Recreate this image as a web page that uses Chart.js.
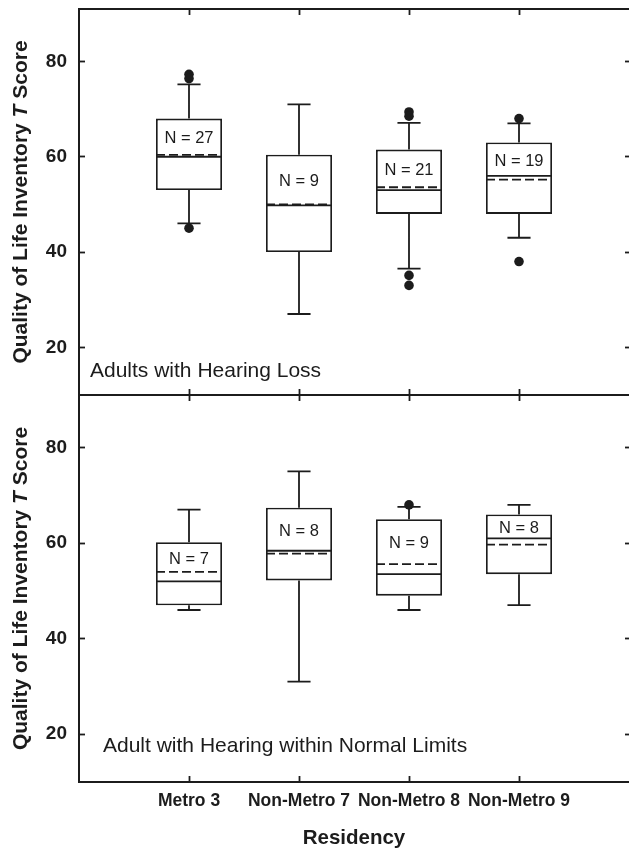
<!DOCTYPE html>
<html>
<head>
<meta charset="utf-8">
<title>Quality of Life Inventory T score by residency</title>
<script src="https://cdn.jsdelivr.net/npm/chart.js@4.4.1/dist/chart.umd.min.js"></script>
<style>
    body { margin: 0; background: #fff; }
    #wrap { position: relative; width: 629px; height: 851px; overflow: hidden; background: #fff; }
    #wrap canvas { position: absolute; left: 0; }
    #topChart { top: 0; }
    #bottomChart { top: 390px; }
</style>
</head>
<body>
<div id="wrap">
    <canvas id="topChart" width="629" height="400"></canvas>
    <canvas id="bottomChart" width="629" height="461"></canvas>
</div>
<script>
const categories = ['Metro 3', 'Non-Metro 7', 'Non-Metro 8', 'Non-Metro 9'];
const yTicks = [20, 40, 60, 80];

// top panel: adults with hearing loss
const lossLow = [46, 27, 36.5, 43];
const lossQ1 = [53, 40, 48, 48];
const lossMedian = [60, 49.8, 53, 56];
const lossMean = [60.4, 50, 53.6, 55.2];
const lossQ3 = [68, 60.4, 61.5, 63];
const lossHigh = [75.2, 71, 67.1, 67];
const lossOutliers = [[77.3, 76.4, 45], [], [69.4, 68.5, 35.1, 33], [68, 38]];
const lossN = [27, 9, 21, 19];

// bottom panel: hearing within normal limits
const normalLow = [46, 31, 46, 47];
const normalQ1 = [47, 52.2, 49, 53.5];
const normalMedian = [52, 58.4, 53.5, 61];
const normalMean = [54, 57.8, 55.6, 59.7];
const normalQ3 = [60.2, 67.4, 65, 66];
const normalHigh = [67, 75, 67.6, 68];
const normalOutliers = [[], [], [68], []];
const normalN = [7, 8, 9, 8];

const INK = '#1c1c1c';
const FONT = "'Liberation Sans', Arial, Helvetica, sans-serif";
const BOX_HALF = 0.3;   // box is 0.6 of a category step
const CAP_HALF = 0.105;

Chart.defaults.font.family = FONT;
Chart.defaults.color = INK;

// horizontal pieces centred on each category, broken by null points
function hLines(values, half) {
    let pts = [];
    values.forEach(function (v, i) {
        pts.push({x: i + 1 - half, y: v}, {x: i + 1 + half, y: v}, {x: i + 1, y: null});
    });
    return pts;
}

function vLines(from, to) {
    let pts = [];
    from.forEach(function (v, i) {
        pts.push({x: i + 1, y: v}, {x: i + 1, y: to[i]}, {x: i + 1, y: null});
    });
    return pts;
}

function lineSet(data, order, dash) {
    return {
        type: 'line',
        data: data,
        order: order,
        borderColor: INK,
        borderWidth: 1.8,
        borderDash: dash || [],
        pointRadius: 0,
        spanGaps: false,
        tension: 0,
        fill: false,
        xAxisID: 'x',
        yAxisID: 'y'
    };
}

function tickGrid(len) {
    return {
        display: true,
        offset: false,
        drawOnChartArea: false,
        drawTicks: true,
        tickLength: len,
        tickWidth: 1.8,
        tickColor: INK
    };
}

// fixed axis size, and no extra room for the end labels
function fixSize(prop, size) {
    return function (s) {
        s[prop] = size;
        s.paddingTop = 0;
        s.paddingBottom = 0;
        s.paddingLeft = 0;
        s.paddingRight = 0;
    };
}

function makePanel(id, p) {
    let outlierPts = [];
    p.outliers.forEach(function (list, i) {
        list.forEach(function (v) { outlierPts.push({x: i + 1, y: v}); });
    });

    // N labels, caption and the y title (it has an italic T in it)
    const textPlugin = {
        id: 'panelText',
        afterDraw(chart) {
            const ctx = chart.ctx;
            const area = chart.chartArea;
            const xs = chart.scales.x;
            const ys = chart.scales.y;
            ctx.save();
            ctx.fillStyle = INK;
            ctx.textAlign = 'center';
            ctx.textBaseline = 'middle';
            ctx.font = '16.5px ' + FONT;
            p.n.forEach(function (n, i) {
                const mid = (p.q3[i] + Math.max(p.median[i], p.mean[i])) / 2;
                ctx.fillText('N = ' + n, xs.getPixelForValue(i + 1), ys.getPixelForValue(mid) + 2);
            });

            ctx.textAlign = 'left';
            ctx.font = '21px ' + FONT;
            ctx.fillText(p.caption, area.left + p.captionDx, area.bottom - p.captionDy);

            // rotated y title
            const parts = [
                ['Quality of Life Inventory ', 'bold 21px ' + FONT],
                ['T', 'italic bold 21px ' + FONT],
                [' Score', 'bold 21px ' + FONT]
            ];
            let total = 0;
            parts.forEach(function (part) {
                ctx.font = part[1];
                total += ctx.measureText(part[0]).width;
            });
            ctx.translate(21, (area.top + area.bottom) / 2);
            ctx.rotate(-Math.PI / 2);
            let cx = -total / 2;
            parts.forEach(function (part) {
                ctx.font = part[1];
                ctx.fillText(part[0], cx, 0);
                cx += ctx.measureText(part[0]).width;
            });
            ctx.restore();
        }
    };

    const catTicks = function (s) {
        s.ticks = categories.map(function (c, i) { return {value: i + 1}; });
    };
    const valTicks = function (s) {
        s.ticks = yTicks.map(function (v) { return {value: v}; });
    };

    return new Chart(document.getElementById(id), {
        type: 'bar',
        data: {
            datasets: [
                {
                    type: 'scatter',
                    data: outlierPts,
                    order: 0,
                    pointRadius: 4.8,
                    pointBackgroundColor: INK,
                    pointBorderWidth: 0,
                    showLine: false,
                    xAxisID: 'x',
                    yAxisID: 'y'
                },
                lineSet(hLines(p.mean, BOX_HALF), 1, [9, 4]),
                lineSet(hLines(p.median, BOX_HALF), 2),
                lineSet(hLines(p.low, CAP_HALF).concat(hLines(p.high, CAP_HALF)), 3),
                lineSet(vLines(p.low, p.q1).concat(vLines(p.q3, p.high)), 4),
                {
                    type: 'bar',
                    data: p.q1.map(function (v, i) { return {x: i + 1, y: [v, p.q3[i]]}; }),
                    order: 5,
                    backgroundColor: '#fff',
                    borderColor: INK,
                    borderWidth: 1.8,
                    borderSkipped: false,
                    barPercentage: BOX_HALF * 2,
                    categoryPercentage: 1,
                    xAxisID: 'x',
                    yAxisID: 'y'
                }
            ]
        },
        options: {
            responsive: false,
            animation: false,
            events: [],
            layout: {autoPadding: false, padding: {top: p.padTop, left: 0, right: 0, bottom: 0}},
            plugins: {legend: {display: false}, tooltip: {enabled: false}},
            scales: {
                x: {
                    type: 'linear',
                    position: 'bottom',
                    min: 0,
                    max: 5,
                    offset: false,
                    afterBuildTicks: catTicks,
                    afterFit: fixSize('height', p.bottomHeight),
                    ticks: {
                        display: p.showX,
                        autoSkip: false,
                        maxRotation: 0,
                        minRotation: 0,
                        padding: 15,
                        color: INK,
                        font: {size: 17.5, weight: 'bold'},
                        callback: function (v) { return categories[v - 1]; }
                    },
                    grid: tickGrid(-6),
                    border: {display: true, color: INK, width: 2},
                    title: {
                        display: p.showX,
                        text: 'Residency',
                        color: INK,
                        font: {size: 20.5, weight: 'bold'},
                        padding: {top: 0, bottom: 0}
                    }
                },
                x2: {
                    type: 'linear',
                    position: 'top',
                    min: 0,
                    max: 5,
                    offset: false,
                    afterBuildTicks: catTicks,
                    afterFit: fixSize('height', 0),
                    ticks: {display: false},
                    grid: tickGrid(-6),
                    border: {display: true, color: INK, width: 2}
                },
                y: {
                    type: 'linear',
                    position: 'left',
                    min: 10,
                    max: 91,
                    afterBuildTicks: valTicks,
                    afterFit: fixSize('width', 79),
                    ticks: {padding: 18, color: INK, font: {size: 19, weight: 'bold'}},
                    grid: tickGrid(-6),
                    border: {display: true, color: INK, width: 2}
                },
                y2: {
                    type: 'linear',
                    position: 'right',
                    min: 10,
                    max: 91,
                    afterBuildTicks: valTicks,
                    afterFit: fixSize('width', 0),
                    ticks: {display: false},
                    grid: tickGrid(-4),
                    border: {display: false}
                }
            }
        },
        plugins: [textPlugin]
    });
}

makePanel('topChart', {
    low: lossLow, q1: lossQ1, median: lossMedian, mean: lossMean,
    q3: lossQ3, high: lossHigh, outliers: lossOutliers, n: lossN,
    caption: 'Adults with Hearing Loss', captionDx: 11, captionDy: 24,
    padTop: 9, bottomHeight: 5, showX: false
});

makePanel('bottomChart', {
    low: normalLow, q1: normalQ1, median: normalMedian, mean: normalMean,
    q3: normalQ3, high: normalHigh, outliers: normalOutliers, n: normalN,
    caption: 'Adult with Hearing within Normal Limits', captionDx: 24, captionDy: 36,
    padTop: 5, bottomHeight: 69, showX: true
});
</script>
</body>
</html>
